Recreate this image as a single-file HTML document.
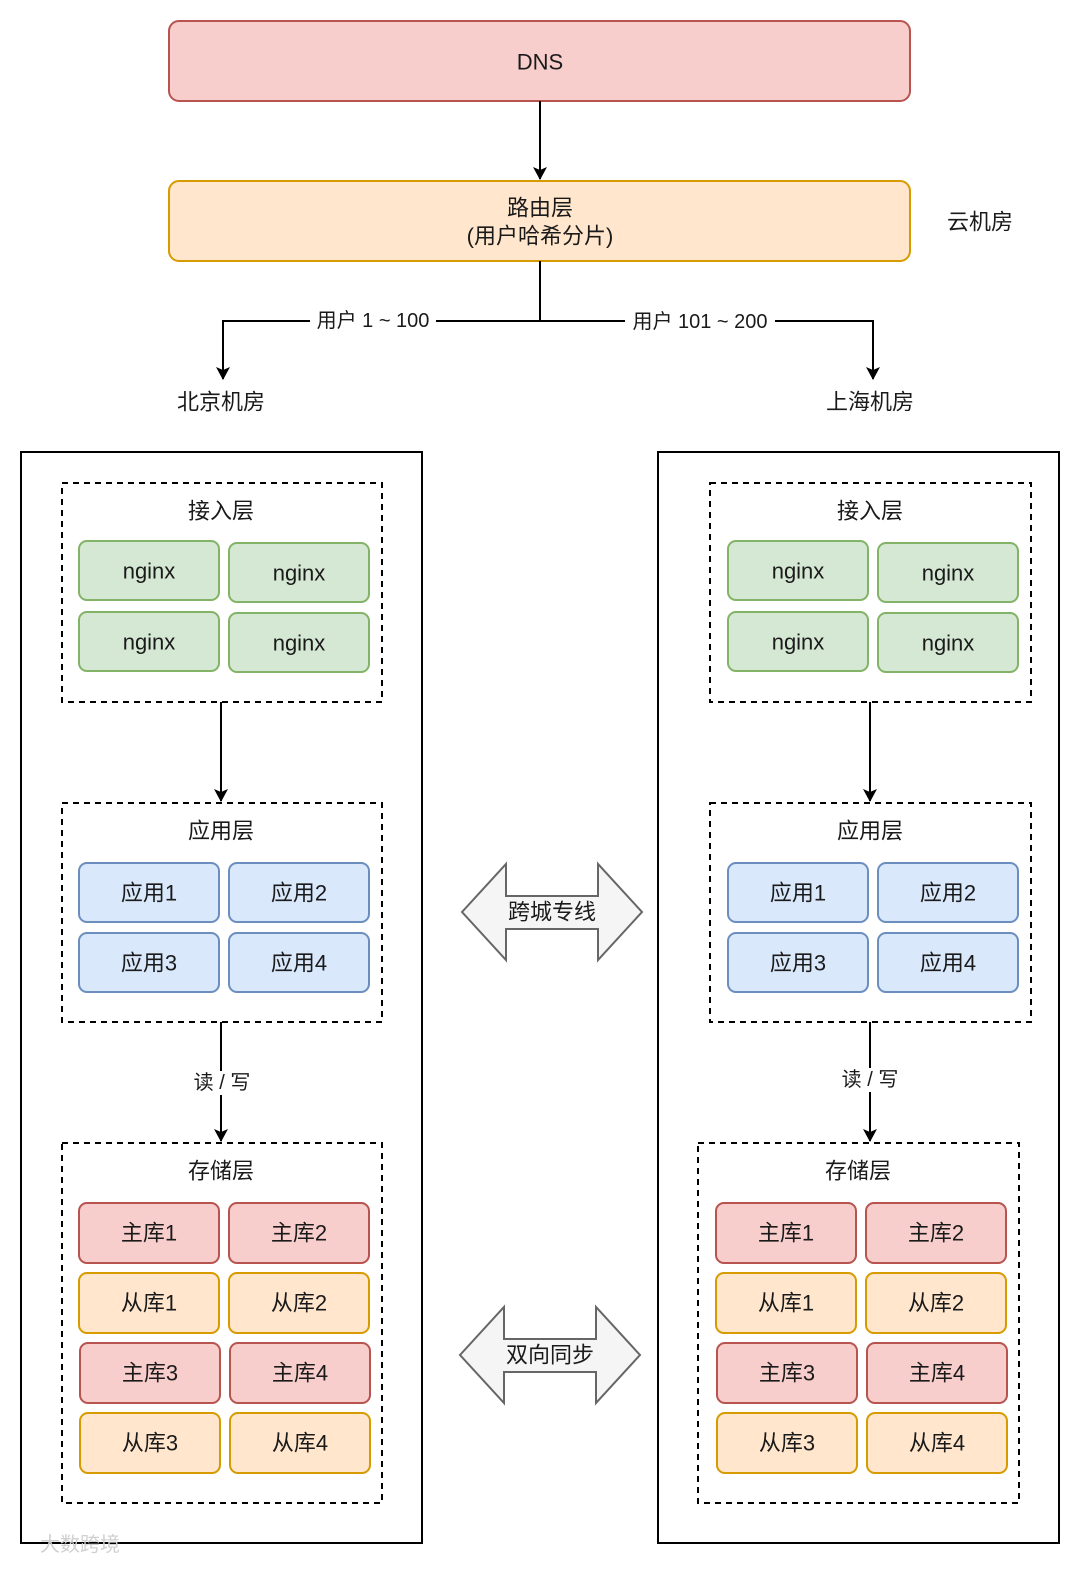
<!DOCTYPE html>
<html><head><meta charset="utf-8"><style>
html,body{margin:0;padding:0;background:#fff;}
svg text{font-family:"Liberation Sans","Noto Sans CJK SC",sans-serif;fill:#1a1a1a;}
</style></head><body>
<svg width="1080" height="1565" viewBox="0 0 1080 1565" xmlns="http://www.w3.org/2000/svg">
<defs>
<marker id="ar" markerWidth="14" markerHeight="14" refX="12" refY="7" orient="auto" markerUnits="userSpaceOnUse">
<path d="M0,0 L13,7 L0,14 L3,7 Z" fill="#000"/></marker>
</defs>
<g font-size="22" text-anchor="middle" dominant-baseline="central" transform="translate(0,2)">
<rect x="169" y="19" width="741" height="80" rx="10" fill="#f8cecc" stroke="#b85450" stroke-width="2"/>
<text x="540" y="60">DNS</text>
<rect x="169" y="179" width="741" height="80" rx="10" fill="#ffe6cc" stroke="#d79b00" stroke-width="2"/>
<text x="540" y="206">路由层</text>
<text x="540" y="234">(用户哈希分片)</text>
<text x="980" y="220">云机房</text>
<line x1="540" y1="99" x2="540" y2="177" stroke="#000" stroke-width="2" marker-end="url(#ar)"/>
<polyline points="540,259 540,319 223,319 223,377" fill="none" stroke="#000" stroke-width="2" marker-end="url(#ar)"/>
<polyline points="540,319 873,319 873,377" fill="none" stroke="#000" stroke-width="2" marker-end="url(#ar)"/>
<rect x="310" y="307" width="126" height="24" fill="#fff"/>
<text x="373" y="319" font-size="20">用户 1 ~ 100</text>
<rect x="625" y="307" width="150" height="24" fill="#fff"/>
<text x="700" y="320" font-size="20">用户 101 ~ 200</text>
<text x="221" y="400">北京机房</text>
<text x="870" y="400">上海机房</text>

<rect x="21" y="450" width="401" height="1091" fill="none" stroke="#000" stroke-width="2"/>
<rect x="658" y="450" width="401" height="1091" fill="none" stroke="#000" stroke-width="2"/>

<g fill="none" stroke="#000" stroke-width="2" stroke-dasharray="6,5">
<rect x="62" y="481" width="320" height="219"/>
<rect x="62" y="801" width="320" height="219"/>
<rect x="62" y="1141" width="320" height="360"/>
<rect x="710" y="481" width="321" height="219"/>
<rect x="710" y="801" width="321" height="219"/>
<rect x="698" y="1141" width="321" height="360"/>
</g>
<text x="221" y="509">接入层</text><text x="221" y="829">应用层</text><text x="221" y="1169">存储层</text>
<text x="870" y="509">接入层</text><text x="870" y="829">应用层</text><text x="858" y="1169">存储层</text>

<g stroke-width="2" transform="translate(0,-2)">
<rect x="79" y="541" width="140" height="59" rx="8" fill="#d5e8d4" stroke="#82b366"/>
<rect x="229" y="543" width="140" height="59" rx="8" fill="#d5e8d4" stroke="#82b366"/>
<rect x="79" y="612" width="140" height="59" rx="8" fill="#d5e8d4" stroke="#82b366"/>
<rect x="229" y="613" width="140" height="59" rx="8" fill="#d5e8d4" stroke="#82b366"/>
<rect x="728" y="541" width="140" height="59" rx="8" fill="#d5e8d4" stroke="#82b366"/>
<rect x="878" y="543" width="140" height="59" rx="8" fill="#d5e8d4" stroke="#82b366"/>
<rect x="728" y="612" width="140" height="59" rx="8" fill="#d5e8d4" stroke="#82b366"/>
<rect x="878" y="613" width="140" height="59" rx="8" fill="#d5e8d4" stroke="#82b366"/>

<rect x="79" y="863" width="140" height="59" rx="8" fill="#dae8fc" stroke="#6c8ebf"/>
<rect x="229" y="863" width="140" height="59" rx="8" fill="#dae8fc" stroke="#6c8ebf"/>
<rect x="79" y="933" width="140" height="59" rx="8" fill="#dae8fc" stroke="#6c8ebf"/>
<rect x="229" y="933" width="140" height="59" rx="8" fill="#dae8fc" stroke="#6c8ebf"/>
<rect x="728" y="863" width="140" height="59" rx="8" fill="#dae8fc" stroke="#6c8ebf"/>
<rect x="878" y="863" width="140" height="59" rx="8" fill="#dae8fc" stroke="#6c8ebf"/>
<rect x="728" y="933" width="140" height="59" rx="8" fill="#dae8fc" stroke="#6c8ebf"/>
<rect x="878" y="933" width="140" height="59" rx="8" fill="#dae8fc" stroke="#6c8ebf"/>

<rect x="79" y="1203" width="140" height="60" rx="8" fill="#f8cecc" stroke="#b85450"/>
<rect x="229" y="1203" width="140" height="60" rx="8" fill="#f8cecc" stroke="#b85450"/>
<rect x="79" y="1273" width="140" height="60" rx="8" fill="#ffe6cc" stroke="#d79b00"/>
<rect x="229" y="1273" width="140" height="60" rx="8" fill="#ffe6cc" stroke="#d79b00"/>
<rect x="80" y="1343" width="140" height="60" rx="8" fill="#f8cecc" stroke="#b85450"/>
<rect x="230" y="1343" width="140" height="60" rx="8" fill="#f8cecc" stroke="#b85450"/>
<rect x="80" y="1413" width="140" height="60" rx="8" fill="#ffe6cc" stroke="#d79b00"/>
<rect x="230" y="1413" width="140" height="60" rx="8" fill="#ffe6cc" stroke="#d79b00"/>
<rect x="716" y="1203" width="140" height="60" rx="8" fill="#f8cecc" stroke="#b85450"/>
<rect x="866" y="1203" width="140" height="60" rx="8" fill="#f8cecc" stroke="#b85450"/>
<rect x="716" y="1273" width="140" height="60" rx="8" fill="#ffe6cc" stroke="#d79b00"/>
<rect x="866" y="1273" width="140" height="60" rx="8" fill="#ffe6cc" stroke="#d79b00"/>
<rect x="717" y="1343" width="140" height="60" rx="8" fill="#f8cecc" stroke="#b85450"/>
<rect x="867" y="1343" width="140" height="60" rx="8" fill="#f8cecc" stroke="#b85450"/>
<rect x="717" y="1413" width="140" height="60" rx="8" fill="#ffe6cc" stroke="#d79b00"/>
<rect x="867" y="1413" width="140" height="60" rx="8" fill="#ffe6cc" stroke="#d79b00"/>
</g>

<text x="149" y="569">nginx</text><text x="299" y="571">nginx</text>
<text x="149" y="640">nginx</text><text x="299" y="641">nginx</text>
<text x="798" y="569">nginx</text><text x="948" y="571">nginx</text>
<text x="798" y="640">nginx</text><text x="948" y="641">nginx</text>
<text x="149" y="891">应用1</text><text x="299" y="891">应用2</text>
<text x="149" y="961">应用3</text><text x="299" y="961">应用4</text>
<text x="798" y="891">应用1</text><text x="948" y="891">应用2</text>
<text x="798" y="961">应用3</text><text x="948" y="961">应用4</text>
<text x="149" y="1231">主库1</text><text x="299" y="1231">主库2</text>
<text x="149" y="1301">从库1</text><text x="299" y="1301">从库2</text>
<text x="150" y="1371">主库3</text><text x="300" y="1371">主库4</text>
<text x="150" y="1441">从库3</text><text x="300" y="1441">从库4</text>
<text x="786" y="1231">主库1</text><text x="936" y="1231">主库2</text>
<text x="786" y="1301">从库1</text><text x="936" y="1301">从库2</text>
<text x="787" y="1371">主库3</text><text x="937" y="1371">主库4</text>
<text x="787" y="1441">从库3</text><text x="937" y="1441">从库4</text>

<g stroke="#000" stroke-width="2">
<line x1="221" y1="700" x2="221" y2="799" marker-end="url(#ar)"/>
<line x1="221" y1="1020" x2="221" y2="1139" marker-end="url(#ar)"/>
<line x1="870" y1="700" x2="870" y2="799" marker-end="url(#ar)"/>
<line x1="870" y1="1020" x2="870" y2="1139" marker-end="url(#ar)"/>
</g>
<rect x="188" y="1069" width="68" height="24" fill="#fff"/>
<text x="222" y="1081" font-size="20">读 / 写</text>
<rect x="836" y="1066" width="68" height="24" fill="#fff"/>
<text x="870" y="1078" font-size="20">读 / 写</text>

<path d="M462,910 L506,862 L506,894 L598,894 L598,862 L642,910 L598,958 L598,927 L506,927 L506,958 Z" fill="#f5f5f5" stroke="#666" stroke-width="2"/>
<text x="552" y="910">跨城专线</text>
<path d="M460,1353 L504,1305 L504,1337 L596,1337 L596,1305 L640,1353 L596,1401 L596,1370 L504,1370 L504,1401 Z" fill="#f5f5f5" stroke="#666" stroke-width="2"/>
<text x="550" y="1353">双向同步</text>
<text x="80" y="1543" font-size="20" style="fill:#d0d0d0">大数跨境</text>
</g>
</svg>
</body></html>
